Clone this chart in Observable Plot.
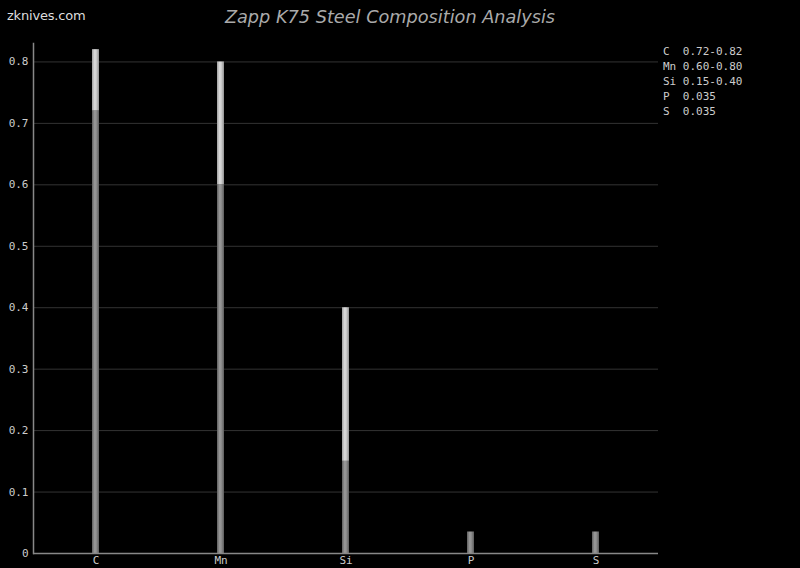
<!DOCTYPE html>
<html>
<head>
<meta charset="utf-8">
<script src="https://cdn.jsdelivr.net/npm/d3@7"></script>
<script src="https://cdn.jsdelivr.net/npm/@observablehq/plot@0.6"></script>
<style>
  html, body { margin: 0; padding: 0; background: #000; }
  #wrap { position: relative; width: 800px; height: 568px; background: #000; overflow: hidden; }
  #site { position: absolute; left: 7px; top: 8px; font: 13px "DejaVu Sans", sans-serif; letter-spacing: -0.2px; color: #ddd; }
  #title { position: absolute; left: 0; width: 780px; top: 7px; text-align: center; font: italic 17.7px "DejaVu Sans", sans-serif; color: #aaa; }
  #legend { position: absolute; left: 663px; top: 44px; font: 11px "DejaVu Sans Mono", monospace; color: #ccc; line-height: 15px; white-space: pre; }
</style>
</head>
<body>
<div id="wrap">
  <div id="chart"></div>
  <div id="site">zknives.com</div>
  <div id="title">Zapp K75 Steel Composition Analysis</div>
  <div id="legend"></div>
</div>
<script>
const elements = ["C", "Mn", "Si", "P", "S"];
const lowValues = [0.72, 0.60, 0.15, 0.035, 0.035];
const highValues = [0.82, 0.80, 0.40, 0.035, 0.035];
const rangeLabels = ["0.72-0.82", "0.60-0.80", "0.15-0.40", "0.035", "0.035"];
const yTicks = [0, 0.1, 0.2, 0.3, 0.4, 0.5, 0.6, 0.7, 0.8];

const data = elements.map((e, i) => ({ el: e, low: lowValues[i], high: highValues[i] }));
const upper = data.filter(d => d.high > d.low);

const plot = Plot.plot({
  width: 800,
  height: 568,
  marginLeft: 33,
  marginRight: 142,
  marginTop: 43,
  marginBottom: 15,
  style: { background: "#000", color: "#ccc", fontFamily: "DejaVu Sans Mono, monospace", fontSize: "11px" },
  x: { domain: elements, padding: 0, label: null },
  y: { domain: [0, 0.83], label: null },
  marks: [
    Plot.ruleY(yTicks.slice(1), { stroke: "#333", strokeWidth: 1 }),
    Plot.axisY({ ticks: yTicks, tickSize: 0, tickPadding: 5, tickFormat: d => d === 0 ? "0" : d3.format(".1f")(d), fill: "#ccc", label: null }),
    Plot.axisX({ tickSize: 0, tickPadding: 3, fill: "#ccc", label: null }),
    Plot.barY(data, { x: "el", y1: 0, y2: "low", fill: "url(#gLow)", insetLeft: 59, insetRight: 59 }),
    Plot.barY(upper, { x: "el", y1: "low", y2: "high", fill: "url(#gHigh)", insetLeft: 59, insetRight: 59 }),
    Plot.ruleY([0], { stroke: "#888", strokeWidth: 1.5 }),
    Plot.frame({ anchor: "left", stroke: "#888", strokeWidth: 1.5 })
  ]
});

const svg = d3.select(plot);
const defs = svg.insert("defs", ":first-child");
function grad(id, stops) {
  const g = defs.append("linearGradient").attr("id", id).attr("x1", "0").attr("x2", "1").attr("y1", "0").attr("y2", "0");
  stops.forEach(([o, c]) => g.append("stop").attr("offset", o).attr("stop-color", c));
}
grad("gLow", [[0, "#606060"], [0.4, "#9c9c9c"], [0.65, "#8a8a8a"], [1, "#5c5c5c"]]);
grad("gHigh", [[0, "#a0a0a0"], [0.4, "#dedede"], [0.65, "#c8c8c8"], [1, "#909090"]]);

document.getElementById("chart").appendChild(plot);

const pad = Math.max(...elements.map(e => e.length));
document.getElementById("legend").textContent =
  elements.map((e, i) => e.padEnd(pad, " ") + " " + rangeLabels[i]).join("\n");
</script>
</body>
</html>
